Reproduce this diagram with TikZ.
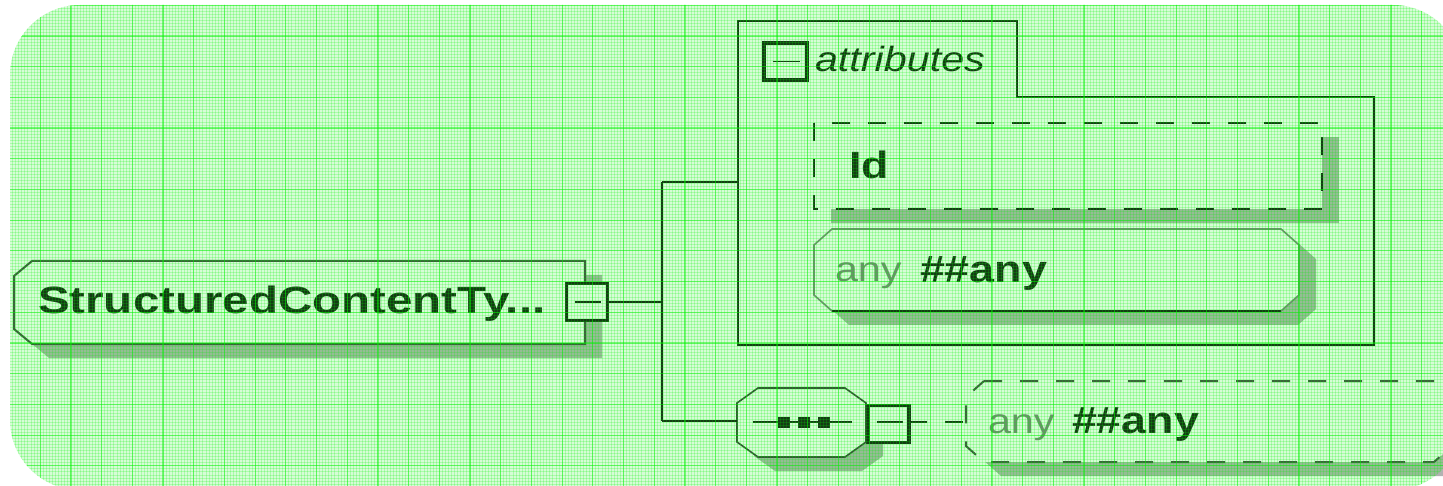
\documentclass[tikz,border=0pt]{standalone}
\usepackage{fontspec}
\setmainfont{Liberation Sans}[FakeStretch=1.18]
\newfontfamily\widesans{Liberation Sans}[FakeStretch=1.25]
\usetikzlibrary{calc}

\definecolor{ink}{gray}{0.10}
\definecolor{shade}{gray}{0.70}
\definecolor{soft}{gray}{0.50}
\definecolor{tint}{rgb}{0,0.95,0}

% box with all four corners cut: style, x1, y1, x2, y2, cut-x, cut-y
\newcommand\octobox[7]{%
  \path[#1] (#2+#6,#3) -- (#4-#6,#3) -- (#4,#3+#7) -- (#4,#5-#7)
    -- (#4-#6,#5) -- (#2+#6,#5) -- (#2,#5-#7) -- (#2,#3+#7) -- cycle;}

\tikzset{
  edge/.style={draw=ink, line width=2pt},
  frame/.style={draw=ink, line width=2pt, fill=white},
  thinframe/.style={draw=ink!85, line width=1.6pt, fill=white},
  optframe/.style={frame, dash pattern=on 18pt off 18pt},
  shadowfill/.style={fill=shade, draw=none},
  button/.style={draw=ink, line width=3.5pt, fill=white, minimum width=41pt,
    minimum height=37pt, inner sep=0pt, outer sep=0pt},
  minus/.style={draw=ink, line width=1.6pt},
  lbl/.style={inner sep=0pt, outer sep=0pt, anchor=base west, text=ink},
  boldlabel/.style={lbl, font=\fontsize{38}{40}\selectfont\bfseries},
  titlelabel/.style={lbl, font=\widesans\fontsize{38}{40}\selectfont\bfseries},
  anylabel/.style={lbl, text=soft, font=\fontsize{35}{40}\selectfont},
  grouplabel/.style={lbl, font=\fontsize{35}{38}\selectfont\itshape},
}

\begin{document}
\begin{tikzpicture}[x=1pt,y=-1pt]
\useasboundingbox (0,0) rectangle (1443,486);
\fill[white] (0,0) rectangle (1443,486);

% ---- element StructuredContentType ----
\fill[shadowfill] (49,275) -- (602,275) -- (602,358) -- (49,358) -- (31,343) -- (31,290) -- cycle;
\draw[frame, draw=ink!80] (32,261) -- (585,261) -- (585,344) -- (32,344) -- (14,329) -- (14,276) -- cycle;
\node[titlelabel] (elname) at (38,314) {StructuredContentTy...};
\node[button] (elbtn) at (587,302) {};
\draw[minus] ([xshift=-12pt]elbtn.center) -- ([xshift=14pt]elbtn.center);

% ---- attributes group ----
\path[edge] (738,21) -- (1017,21) -- (1017,97) -- (1374,97) -- (1374,345) -- (738,345) -- cycle;
\node[button, minimum width=43pt] (attbtn) at (785.5,61.5) {};
\draw[minus] ([xshift=-13pt]attbtn.center) -- ([xshift=14pt]attbtn.center);
\node[grouplabel] (attname) at (815,72) {attributes};

% attribute Id (optional)
\fill[shadowfill] (831,137) rectangle (1339,223);
\path[optframe] (814,123) rectangle (1322,209);
\node[boldlabel] (idname) at (849,179) {Id};

% attribute wildcard
\octobox{shadowfill}{831}{243}{1316}{325}{18}{16}
\octobox{thinframe, draw=ink!55}{814}{229}{1299}{311}{18}{16}
\draw[ink, line width=2pt] (832,311) -- (1281,311);
\node[anylabel] (anyA) at (835,282) {any};
\node[boldlabel] (nsA) at (920,283) {\#\#any};

% ---- sequence compositor ----
\octobox{shadowfill}{754}{402}{883}{471}{21}{15}
\octobox{thinframe}{737}{388}{866}{457}{21}{15}
\coordinate (seqw) at (737,421);
\draw[ink, line width=1.6pt] (753,422) -- (852,422);
\fill[ink] (778,417) rectangle (790,428);
\fill[ink] (798,417) rectangle (810,428);
\fill[ink] (818,417) rectangle (830,428);
\node[button] (seqbtn) at (888.5,424) {};
\draw[minus] ([xshift=-12pt,yshift=2pt]seqbtn.center) -- ([xshift=14pt,yshift=2pt]seqbtn.center);

% element wildcard (optional)
\octobox{shadowfill}{983}{395}{1469}{476}{18}{16}
\octobox{optframe, draw=ink!80}{966}{381}{1452}{462}{18}{16}
\coordinate (anyw) at (966,422);
\node[anylabel] (anyB) at (988,433) {any};
\node[boldlabel] (nsB) at (1072,433) {\#\#any};

% ---- connectors ----
\coordinate (fork) at (662,302);
\coordinate (forktop) at (662,182);
\coordinate (forkbot) at (662,421);
\coordinate (attw) at (738,182);
\draw[edge] (elbtn.east) -- (fork);
\draw[edge] (forktop) -- (forkbot);
\draw[edge] (forktop) -- (attw);
\draw[edge] (forkbot) -- (seqw);
\draw[edge, dash pattern=on 18pt off 18pt] ([yshift=2pt]seqbtn.east) -- (anyw);

% ---- green grid paper laid over the drawing ----
\begin{scope}
  \clip[rounded corners=70pt] (10,5) rectangle (1463,490);
  \fill[tint, opacity=0.16] (0,0) rectangle (1470,495);
  \foreach \i in {0,...,476}
    \draw[tint, opacity=0.2, line width=0.9pt] (9.5+3.07*\i,0) -- (9.5+3.07*\i,495);
  \foreach \j in {0,...,160}
    \draw[tint, opacity=0.2, line width=0.9pt] (0,5.3+3.07*\j) -- (1470,5.3+3.07*\j);
  \foreach \i in {0,...,47}
    \draw[tint, opacity=0.45, line width=1.2pt] (9.5+30.7*\i,0) -- (9.5+30.7*\i,495);
  \foreach \j in {0,...,16}
    \draw[tint, opacity=0.45, line width=1.2pt] (0,5.3+30.7*\j) -- (1470,5.3+30.7*\j);
\end{scope}
\end{tikzpicture}
\end{document}
